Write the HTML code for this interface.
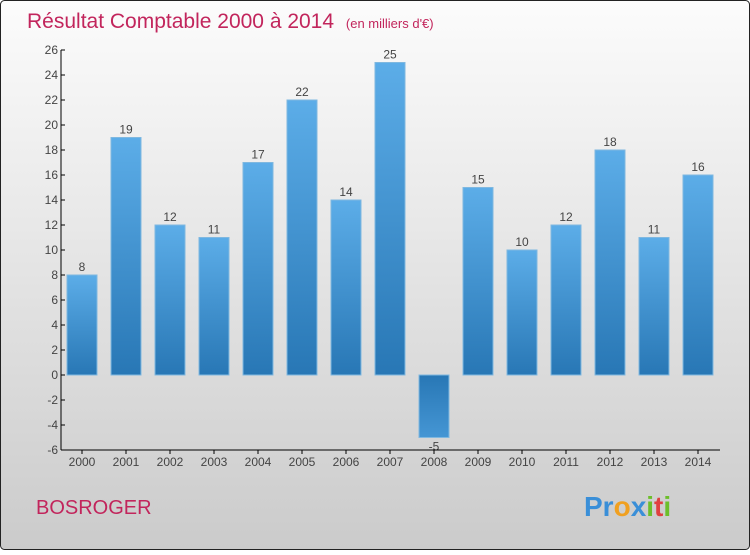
<!DOCTYPE html>
<html><head><meta charset="utf-8"><style>
body{margin:0;width:750px;height:550px;overflow:hidden;font-family:"Liberation Sans",sans-serif}
</style></head><body>
<svg width="750" height="550" xmlns="http://www.w3.org/2000/svg">
<defs>
<linearGradient id="bg" x1="0" y1="0" x2="0" y2="1"><stop offset="0" stop-color="#fcfcfc"/><stop offset="1" stop-color="#cbcbcb"/></linearGradient>
<linearGradient id="bp" x1="0" y1="0" x2="0" y2="1"><stop offset="0" stop-color="#5cade8"/><stop offset="1" stop-color="#2877b5"/></linearGradient>
<linearGradient id="bn" x1="0" y1="0" x2="0" y2="1"><stop offset="0" stop-color="#2877b5"/><stop offset="1" stop-color="#4596d4"/></linearGradient>
</defs>
<rect x="0.5" y="0.5" width="749" height="549" rx="4" fill="url(#bg)" stroke="#222"/>
<text x="27" y="28" font-size="21" fill="#c2255c">Résultat Comptable 2000 à 2014 <tspan font-size="13" dx="6">(en milliers d'€)</tspan></text>
<text x="36" y="514" font-size="20" fill="#c2255c">BOSROGER</text>
<text x="584" y="516" font-size="28" font-weight="bold"><tspan fill="#3a8fd8">Pr</tspan><tspan fill="#f0a020">o</tspan><tspan fill="#3a8fd8">x</tspan><tspan fill="#6cbf2a">i</tspan><tspan fill="#e04040">t</tspan><tspan fill="#6cbf2a">i</tspan></text>
<g id="plot"></g>
</svg>
<script>
const categories=["2000","2001","2002","2003","2004","2005","2006","2007","2008","2009","2010","2011","2012","2013","2014"];
const values=[8,19,12,11,17,22,14,25,-5,15,10,12,18,11,16];
const yTicks=[-6,-4,-2,0,2,4,6,8,10,12,14,16,18,20,22,24,26];
const NS="http://www.w3.org/2000/svg";
const g=document.getElementById('plot');
const y=v=>375-v*12.5;
const x=i=>82+i*44;
function mk(t,a){const e=document.createElementNS(NS,t);for(const k in a)e.setAttribute(k,a[k]);g.appendChild(e);return e;}
values.forEach((v,i)=>{
 const r=mk('rect',{x:x(i)-15,y:Math.min(y(v),y(0)),width:30,height:Math.abs(y(v)-y(0)),fill:v>=0?'url(#bp)':'url(#bn)',stroke:'#7fb8e0','stroke-width':1});
 
 
 const t=mk('text',{x:x(i),y:v>=0?y(v)-4:y(v)+13,'text-anchor':'middle','font-size':12,fill:'#444'});
 t.textContent=v;
 
 
 const c=mk('text',{x:x(i),y:466,'text-anchor':'middle','font-size':12,fill:'#444'});
 c.textContent=categories[i];
 
 
 const tk=mk('line',{x1:x(i),x2:x(i),y1:450,y2:454,stroke:'#000'});
 
 
});
yTicks.forEach(v=>{
 const l=mk('line',{x1:61,x2:65,y1:y(v),y2:y(v),stroke:'#000'});
 
 
 const t=mk('text',{x:58,y:y(v)+4,'text-anchor':'end','font-size':12,fill:'#444'});
 t.textContent=v;
 
 
});
const ya=mk('line',{x1:61,x2:61,y1:50,y2:450,stroke:'#000'});


const xa=mk('line',{x1:61,x2:720,y1:450,y2:450,stroke:'#000'});


</script>
</body></html>
